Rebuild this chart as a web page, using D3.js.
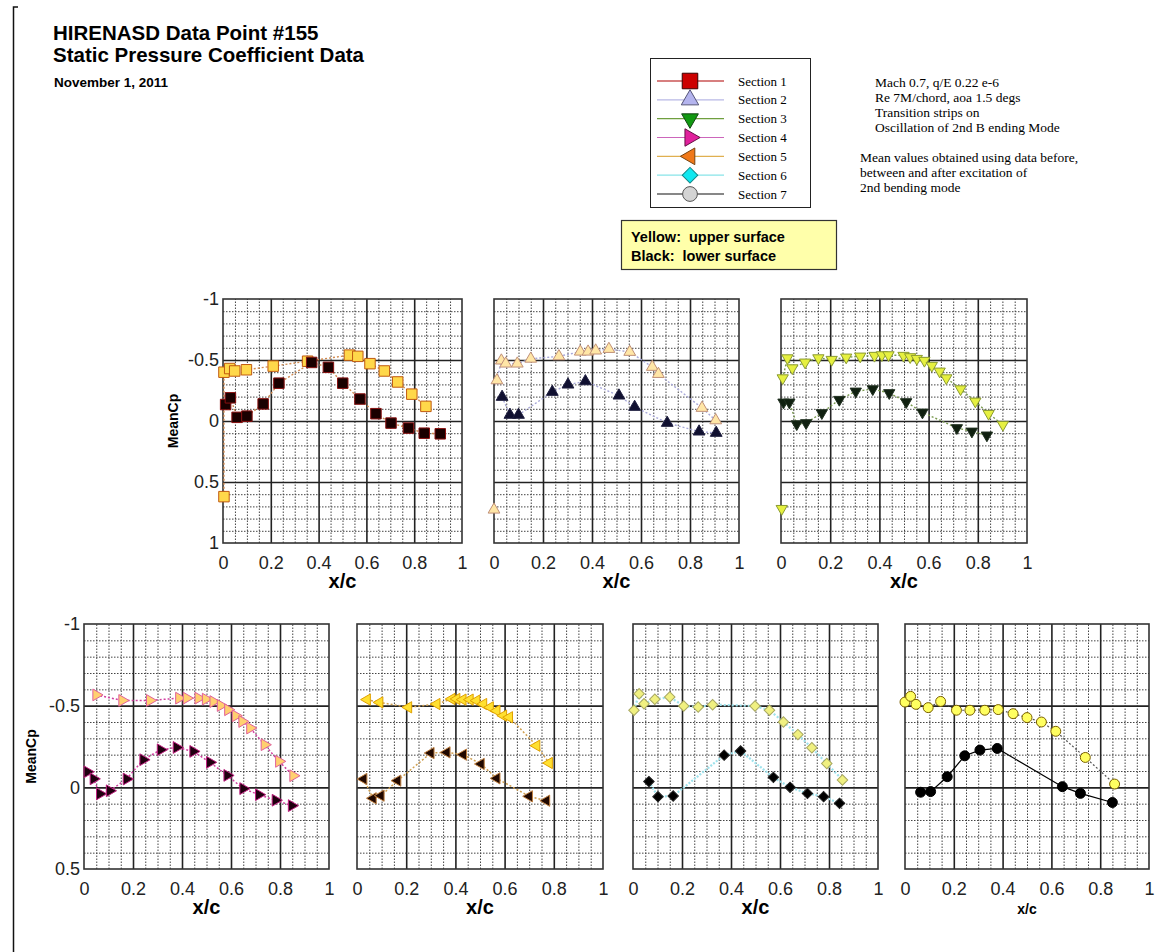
<!DOCTYPE html>
<html>
<head>
<meta charset="utf-8">
<script src="https://cdn.jsdelivr.net/npm/d3@7"></script>
<style>
  body { margin: 0; background: #fff; }
  svg text { font-family: "Liberation Sans", Arial, sans-serif; }
  svg text.serif { font-family: "Liberation Serif", "Times New Roman", serif; }
</style>
</head>
<body>
<svg id="chart" width="1158" height="952"></svg>
<script>
// tick values and labels
const xTicks = [0, 0.2, 0.4, 0.6, 0.8, 1];
const yTicksTop = [-1, -0.5, 0, 0.5, 1];
const yTicksBottom = [-1, -0.5, 0, 0.5];
const sectionNames = ["Section 1", "Section 2", "Section 3", "Section 4", "Section 5", "Section 6", "Section 7"];

// [x/c, MeanCp]
const sec1Upper = [[0.004, 0.62], [0.004, -0.40], [0.028, -0.43], [0.049, -0.41], [0.098, -0.42], [0.21, -0.45], [0.354, -0.49], [0.529, -0.54], [0.564, -0.53], [0.615, -0.47], [0.675, -0.41], [0.731, -0.32], [0.79, -0.22], [0.849, -0.12]];
const sec1Lower = [[0.011, -0.135], [0.031, -0.19], [0.059, -0.03], [0.10, -0.04], [0.168, -0.14], [0.234, -0.31], [0.371, -0.48], [0.441, -0.44], [0.501, -0.31], [0.573, -0.18], [0.64, -0.06], [0.703, 0.017], [0.776, 0.058], [0.842, 0.10], [0.909, 0.105]];

const sec2Upper = [[0.0, 0.727], [0.012, -0.333], [0.03, -0.495], [0.048, -0.47], [0.095, -0.47], [0.15, -0.51], [0.265, -0.53], [0.352, -0.568], [0.384, -0.568], [0.415, -0.577], [0.469, -0.59], [0.554, -0.566], [0.646, -0.443], [0.671, -0.385], [0.849, -0.107], [0.905, -0.005]];
const sec2Lower = [[0.033, -0.197], [0.065, -0.05], [0.10, -0.05], [0.238, -0.238], [0.302, -0.298], [0.373, -0.325], [0.51, -0.208], [0.574, -0.115], [0.707, 0.016], [0.837, 0.087], [0.907, 0.098]];

const sec3Upper = [[0.003, 0.719], [0.007, -0.352], [0.026, -0.516], [0.046, -0.434], [0.098, -0.481], [0.152, -0.516], [0.206, -0.503], [0.265, -0.522], [0.322, -0.53], [0.38, -0.536], [0.41, -0.541], [0.437, -0.541], [0.498, -0.536], [0.525, -0.525], [0.552, -0.511], [0.583, -0.495], [0.613, -0.454], [0.645, -0.407], [0.672, -0.352], [0.73, -0.262], [0.79, -0.161], [0.844, -0.06], [0.902, 0.03]];
const sec3Lower = [[0.01, -0.153], [0.034, -0.153], [0.064, 0.025], [0.102, 0.016], [0.166, -0.066], [0.237, -0.175], [0.304, -0.243], [0.373, -0.262], [0.44, -0.23], [0.509, -0.156], [0.575, -0.071], [0.715, 0.057], [0.776, 0.085], [0.837, 0.117]];

const sec4Upper = [[0.05, -0.566], [0.156, -0.532], [0.269, -0.532], [0.388, -0.546], [0.419, -0.546], [0.467, -0.546], [0.497, -0.54], [0.528, -0.525], [0.558, -0.501], [0.588, -0.475], [0.619, -0.438], [0.646, -0.403], [0.678, -0.363], [0.737, -0.261], [0.796, -0.159], [0.854, -0.071]];
const sec4Lower = [[0.014, -0.095], [0.039, -0.052], [0.065, 0.04], [0.105, 0.021], [0.174, -0.051], [0.242, -0.169], [0.313, -0.23], [0.378, -0.244], [0.446, -0.22], [0.514, -0.153], [0.585, -0.073], [0.65, 0.008], [0.714, 0.045], [0.782, 0.079], [0.848, 0.112]];

const sec5Upper = [[0.041, -0.537], [0.092, -0.52], [0.209, -0.49], [0.324, -0.51], [0.385, -0.541], [0.405, -0.541], [0.43, -0.537], [0.459, -0.537], [0.486, -0.531], [0.514, -0.51], [0.541, -0.49], [0.568, -0.469], [0.595, -0.439], [0.619, -0.429], [0.73, -0.255], [0.781, -0.149]];
const sec5Lower = [[0.027, -0.051], [0.065, 0.067], [0.097, 0.051], [0.165, -0.041], [0.30, -0.21], [0.365, -0.214], [0.432, -0.2], [0.504, -0.143], [0.568, -0.055], [0.70, 0.055], [0.77, 0.082]];

const sec6Upper = [[0.004, -0.472], [0.025, -0.573], [0.045, -0.512], [0.089, -0.539], [0.15, -0.553], [0.207, -0.498], [0.266, -0.492], [0.325, -0.506], [0.498, -0.498], [0.557, -0.472], [0.614, -0.40], [0.673, -0.323], [0.73, -0.242], [0.791, -0.146], [0.855, -0.045]];
const sec6Lower = [[0.065, -0.035], [0.102, 0.057], [0.164, 0.053], [0.372, -0.197], [0.439, -0.222], [0.573, -0.061], [0.641, 0.0], [0.712, 0.037], [0.778, 0.057], [0.843, 0.098]];

const sec7Upper = [[0.0, -0.522], [0.023, -0.557], [0.045, -0.508], [0.095, -0.488], [0.146, -0.526], [0.211, -0.472], [0.266, -0.472], [0.327, -0.472], [0.382, -0.476], [0.443, -0.451], [0.50, -0.427], [0.559, -0.40], [0.618, -0.343], [0.739, -0.183], [0.859, -0.02]];
const sec7Lower = [[0.064, 0.03], [0.105, 0.026], [0.173, -0.065], [0.245, -0.193], [0.307, -0.228], [0.378, -0.238], [0.645, -0.004], [0.719, 0.037], [0.85, 0.093]];

const noteLines1 = ["Mach 0.7, q/E 0.22 e-6", "Re 7M/chord, aoa 1.5 degs", "Transition strips on", "Oscillation of 2nd B ending Mode"];
const noteLines2 = ["Mean values obtained using data before,", "between and after excitation of", "2nd bending mode"];

// marker shapes per section
const shapes = [
  {type: d3.symbolSquare, rot: 0, size: 110},
  {type: d3.symbolTriangle, rot: 0, size: 60},
  {type: d3.symbolTriangle, rot: 180, size: 55},
  {type: d3.symbolTriangle, rot: 90, size: 60},
  {type: d3.symbolTriangle, rot: -90, size: 55},
  {type: d3.symbolSquare, rot: 45, size: 55},
  {type: d3.symbolCircle, rot: 0, size: 78}
];

const legendStyles = [
  {fill: "#cc0000", stroke: "#3a0000", line: "#b00000"},
  {fill: "#b4b4ee", stroke: "#555577", line: "#b8b8e6"},
  {fill: "#119911", stroke: "#114411", line: "#6f9f3f"},
  {fill: "#e0209c", stroke: "#661144", line: "#cc66bb"},
  {fill: "#f07818", stroke: "#774411", line: "#e0b050"},
  {fill: "#10e8f0", stroke: "#118888", line: "#88e4e8"},
  {fill: "#d4d4d4", stroke: "#555555", line: "#111111"}
];

const panels = [
  {sec: 0, upper: sec1Upper, lower: sec1Lower, left: 223, top: 299, w: 239, h: 244, yDomain: [-1, 1], yTicks: yTicksTop, yLabels: true, lineFromLE: true,
   upFill: "#ffd84a", upStroke: "#c05a10", loFill: "#1a0000", loStroke: "#8a1010", line: "#d08a50", loDash: "2,2", lineW: 1.4},
  {sec: 1, upper: sec2Upper, lower: sec2Lower, left: 494, top: 299, w: 245, h: 244, yDomain: [-1, 1], yTicks: yTicksTop, yLabels: false, lineFromLE: false,
   upFill: "#ffe6a6", upStroke: "#c09078", loFill: "#101030", loStroke: "#202040", line: "#a8a8d8", loDash: "2,2", lineW: 1.4},
  {sec: 2, upper: sec3Upper, lower: sec3Lower, left: 781, top: 299, w: 246, h: 244, yDomain: [-1, 1], yTicks: yTicksTop, yLabels: false, lineFromLE: false,
   upFill: "#e6f040", upStroke: "#8a9a30", loFill: "#102010", loStroke: "#203020", line: "#7a9a50", loDash: "2,2", lineW: 1.4},
  {sec: 3, upper: sec4Upper, lower: sec4Lower, left: 84, top: 624, w: 245, h: 245, yDomain: [-1, 0.5], yTicks: yTicksBottom, yLabels: true, lineFromLE: true,
   upFill: "#ffd070", upStroke: "#e0609a", loFill: "#200010", loStroke: "#c02080", line: "#d040a0", loDash: "2,2", lineW: 1.5},
  {sec: 4, upper: sec5Upper, lower: sec5Lower, left: 357, top: 624, w: 246, h: 245, yDomain: [-1, 0.5], yTicks: yTicksBottom, yLabels: false, lineFromLE: true,
   upFill: "#ffe030", upStroke: "#e0a000", loFill: "#200800", loStroke: "#c08040", line: "#d0a050", loDash: "2,2", lineW: 1.5},
  {sec: 5, upper: sec6Upper, lower: sec6Lower, left: 633, top: 624, w: 245, h: 245, yDomain: [-1, 0.5], yTicks: yTicksBottom, yLabels: false, lineFromLE: true,
   upFill: "#f0f080", upStroke: "#a8a860", loFill: "#000000", loStroke: "#222222", line: "#9ee2ec", loDash: "2,1.5", lineW: 2.2},
  {sec: 6, upper: sec7Upper, lower: sec7Lower, left: 905, top: 624, w: 244, h: 245, yDomain: [-1, 0.5], yTicks: yTicksBottom, yLabels: false, lineFromLE: true,
   upFill: "#ffff60", upStroke: "#7a6000", loFill: "#000000", loStroke: "#000000", line: "#555555", loLine: "#000000", loDash: null, lineW: 1.2, xLabelSize: 14}
];

const svg = d3.select("#chart");
const tickFmt = d => String(d);

// page frame on the left
svg.append("path")
  .attr("d", "M18,7 H13.5 V952")
  .attr("fill", "none")
  .attr("stroke", "#111")
  .attr("stroke-width", 1.5);

// headings
svg.append("text").attr("x", 53).attr("y", 40)
  .attr("font-size", 20.5).attr("font-weight", "bold").text("HIRENASD Data Point #155");
svg.append("text").attr("x", 53).attr("y", 62)
  .attr("font-size", 20.5).attr("font-weight", "bold").text("Static Pressure Coefficient Data");
svg.append("text").attr("x", 54).attr("y", 87)
  .attr("font-size", 13.5).attr("font-weight", "bold").text("November 1, 2011");

function isMultiple(v, step) {
  return Math.abs(v / step - Math.round(v / step)) < 1e-6;
}

function drawPanel(p) {
  const x = d3.scaleLinear().domain([0, 1]).range([p.left, p.left + p.w]);
  const y = d3.scaleLinear().domain(p.yDomain).range([p.top, p.top + p.h]);
  const shape = shapes[p.sec];
  const g = svg.append("g").attr("class", "panel");

  const minorX = d3.range(0.05, 1, 0.05).filter(v => !isMultiple(v, 0.2));
  const minorY = d3.range(p.yDomain[0] + 0.1, p.yDomain[1] - 1e-6, 0.1).filter(v => !isMultiple(v, 0.5));
  const majorX = xTicks.slice(1, -1);
  const majorY = p.yTicks.filter(v => v > p.yDomain[0] && v < p.yDomain[1]);

  // minor grid
  g.append("g")
    .attr("transform", `translate(0,${p.top + p.h})`)
    .call(d3.axisBottom(x).tickValues(minorX).tickSize(-p.h).tickFormat(""))
    .call(a => a.select(".domain").remove())
    .selectAll("line").attr("stroke", "#444").attr("stroke-dasharray", "1.5,1.5");
  g.append("g")
    .attr("transform", `translate(${p.left},0)`)
    .call(d3.axisLeft(y).tickValues(minorY).tickSize(-p.w).tickFormat(""))
    .call(a => a.select(".domain").remove())
    .selectAll("line").attr("stroke", "#444").attr("stroke-dasharray", "1.5,1.5");

  // major grid
  g.append("g")
    .attr("transform", `translate(0,${p.top + p.h})`)
    .call(d3.axisBottom(x).tickValues(majorX).tickSize(-p.h).tickFormat(""))
    .call(a => a.select(".domain").remove())
    .selectAll("line").attr("stroke", "#222").attr("stroke-width", 1.6);
  g.append("g")
    .attr("transform", `translate(${p.left},0)`)
    .call(d3.axisLeft(y).tickValues(majorY).tickSize(-p.w).tickFormat(""))
    .call(a => a.select(".domain").remove())
    .selectAll("line").attr("stroke", "#222").attr("stroke-width", 1.6);

  // frame
  g.append("rect")
    .attr("x", x(0)).attr("y", y(p.yDomain[0]))
    .attr("width", x(1) - x(0)).attr("height", y(p.yDomain[1]) - y(p.yDomain[0]))
    .attr("fill", "none").attr("stroke", "#333").attr("stroke-width", 1.6);

  // x tick labels
  const xa = g.append("g")
    .attr("transform", `translate(0,${p.top + p.h})`)
    .call(d3.axisBottom(x).tickValues(xTicks).tickSize(0).tickPadding(13).tickFormat(tickFmt));
  xa.select(".domain").remove();
  xa.selectAll("text").attr("font-size", 18).attr("fill", "#222")
    .attr("font-family", "'Liberation Sans', Arial, sans-serif");

  g.append("text")
    .attr("x", (x(0) + x(1)) / 2).attr("y", p.top + p.h + 45)
    .attr("text-anchor", "middle").attr("font-size", p.xLabelSize || 20).attr("font-weight", "bold")
    .text("x/c");

  if (p.yLabels) {
    const ya = g.append("g")
      .attr("transform", `translate(${p.left},0)`)
      .call(d3.axisLeft(y).tickValues(p.yTicks).tickSize(0).tickPadding(4).tickFormat(tickFmt));
    ya.select(".domain").remove();
    ya.selectAll("text").attr("font-size", 18).attr("fill", "#222")
      .attr("font-family", "'Liberation Sans', Arial, sans-serif");
    g.append("text")
      .attr("transform", `translate(${p.left - (p.sec === 0 ? 45 : 48)},${(y(p.yDomain[0]) + y(p.yDomain[1])) / 2 + (p.sec === 0 ? 0 : 10)}) rotate(-90)`)
      .attr("text-anchor", "middle").attr("font-size", 14).attr("font-weight", "bold")
      .text("MeanCp");
  }

  const line = d3.line().x(d => x(d[0])).y(d => y(d[1]));
  // the stagnation point is left unconnected where the reference shows no line to it
  const upperPath = p.lineFromLE ? p.upper : p.upper.slice(1);

  g.append("path").datum(upperPath).attr("d", line)
    .attr("fill", "none").attr("stroke", p.line).attr("stroke-width", p.lineW)
    .attr("stroke-dasharray", "2,2");
  g.append("path").datum(p.lower).attr("d", line)
    .attr("fill", "none").attr("stroke", p.loLine || p.line).attr("stroke-width", p.lineW)
    .attr("stroke-dasharray", p.loDash);

  const sym = d3.symbol(shape.type, shape.size);
  g.selectAll("path.upper").data(p.upper).join("path")
    .attr("class", "upper")
    .attr("d", sym)
    .attr("transform", d => `translate(${x(d[0])},${y(d[1])}) rotate(${shape.rot})`)
    .attr("fill", p.upFill).attr("stroke", p.upStroke).attr("stroke-width", 1);
  g.selectAll("path.lower").data(p.lower).join("path")
    .attr("class", "lower")
    .attr("d", sym)
    .attr("transform", d => `translate(${x(d[0])},${y(d[1])}) rotate(${shape.rot})`)
    .attr("fill", p.loFill).attr("stroke", p.loStroke).attr("stroke-width", 1);
}

panels.forEach(drawPanel);

// section legend
const legend = svg.append("g");
legend.append("rect")
  .attr("x", 650.5).attr("y", 58.5).attr("width", 160).attr("height", 149)
  .attr("fill", "#fff").attr("stroke", "#222").attr("stroke-width", 1);
const legendY = d3.scalePoint().domain(sectionNames).range([81, 194]);
sectionNames.forEach((name, i) => {
  const yy = legendY(name);
  const st = legendStyles[i];
  const sh = shapes[i];
  legend.append("line")
    .attr("x1", 657).attr("x2", 724).attr("y1", yy).attr("y2", yy)
    .attr("stroke", st.line).attr("stroke-width", 1.2);
  legend.append("path")
    .attr("d", d3.symbol(sh.type, sh.size * 2.2)())
    .attr("transform", `translate(690,${yy}) rotate(${sh.rot})`)
    .attr("fill", st.fill).attr("stroke", st.stroke).attr("stroke-width", 1);
  legend.append("text").attr("class", "serif")
    .attr("x", 738).attr("y", yy + 4.5).attr("font-size", 13)
    .text(name);
});

// surface key
svg.append("rect")
  .attr("x", 621.5).attr("y", 220.5).attr("width", 215).attr("height", 49)
  .attr("fill", "#ffffaa").attr("stroke", "#333").attr("stroke-width", 1.2);
svg.append("text").attr("x", 631).attr("y", 242)
  .attr("font-size", 14.5).attr("font-weight", "bold").attr("xml:space", "preserve")
  .text("Yellow:  upper surface");
svg.append("text").attr("x", 631).attr("y", 261)
  .attr("font-size", 14.5).attr("font-weight", "bold").attr("xml:space", "preserve")
  .text("Black:  lower surface");

// run conditions
noteLines1.forEach((t, i) => {
  svg.append("text").attr("class", "serif")
    .attr("x", 875).attr("y", 87 + i * 15).attr("font-size", 13.5).text(t);
});
noteLines2.forEach((t, i) => {
  svg.append("text").attr("class", "serif")
    .attr("x", 860).attr("y", 162 + i * 15).attr("font-size", 13.5).text(t);
});
</script>
</body>
</html>
